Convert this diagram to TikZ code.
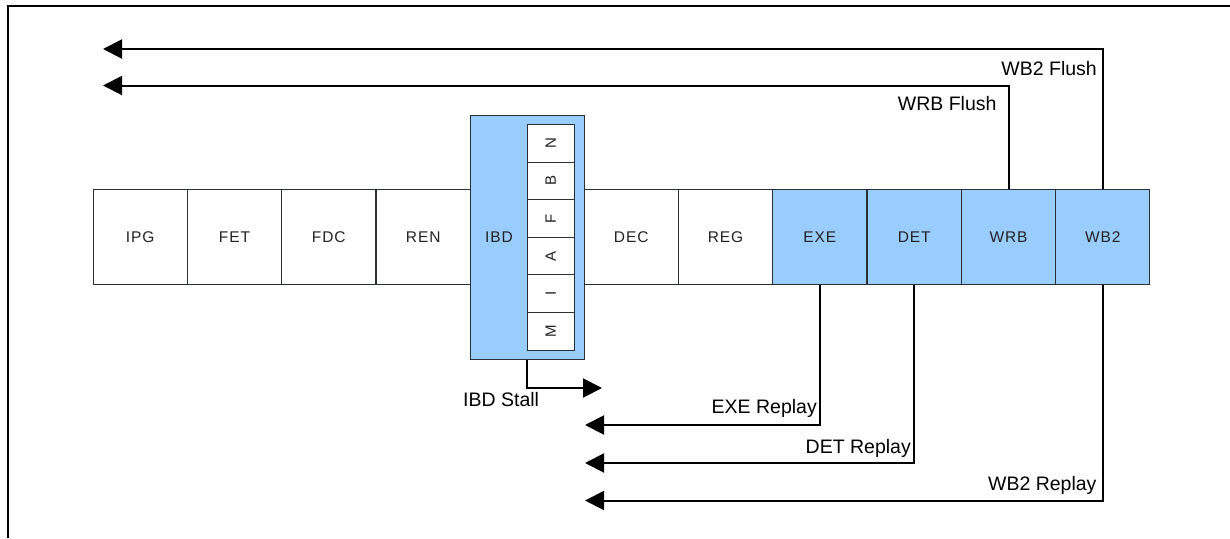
\documentclass[tikz,border=0pt]{standalone}
\usepackage{fontspec}
\usepackage{graphicx}
\setmainfont{Liberation Sans}
\usetikzlibrary{arrows.meta}
\definecolor{stageblue}{HTML}{99CCFF}
\definecolor{stagetext}{HTML}{222222}
\definecolor{stageline}{HTML}{2A2F33}
\tikzset{
  stagebox/.style={draw=stageline, line width=1pt, fill=white,
    minimum width=94.3pt, minimum height=94.7pt, inner sep=0pt,
    text=stagetext, font=\fontsize{15.5}{18}\selectfont\addfontfeature{LetterSpace=6}},
  hotbox/.style={stagebox, fill=stageblue},
  cellbox/.style={draw=stageline, line width=1pt, fill=white,
    minimum width=47pt, minimum height=37.7pt, inner sep=0pt,
    text=stagetext, font=\fontsize{15}{18}\selectfont},
  flow/.style={draw=black, line width=2pt,
    -{Triangle[length=19pt,width=19pt]}},
  lbl/.style={inner sep=0pt, anchor=base east, font=\fontsize{19.5}{22}\selectfont}
}
\begin{document}
\begin{tikzpicture}[x=1pt, y=-1pt]
\useasboundingbox (0,0) rectangle (1230,538);
% frame edges
\draw[line width=2pt] (7.7,538) -- (7.7,5.5) -- (1230,5.5);

% pipeline stages
\node[stagebox] (ipg) at (140.2,236.7) {IPG};
\node[stagebox] (fet) at (234.5,236.7) {FET};
\node[stagebox] (fdc) at (328.8,236.7) {FDC};
\node[stagebox] (ren) at (423.2,236.7) {REN};
\node[hotbox, minimum width=113.7pt, minimum height=244pt] (ibd) at (527.2,237) {};
\node[stagebox, fill=none, draw=none] (ibdtxt) at (499,236.7) {IBD};
\node[stagebox] (dec) at (631.2,236.7) {DEC};
\node[stagebox] (reg) at (725.5,236.7) {REG};
\node[hotbox] (exe) at (819.8,236.7) {EXE};
\node[hotbox] (det) at (914.2,236.7) {DET};
\node[hotbox] (wrb) at (1008.5,236.7) {WRB};
\node[hotbox] (wb2) at (1102.8,236.7) {WB2};

% instruction buffer column
\node[cellbox] (cn) at (550.8,143.2) {\rotatebox{90}{N}};
\node[cellbox] (cb) at (550.8,180.85) {\rotatebox{90}{B}};
\node[cellbox] (cf) at (550.8,218.5) {\rotatebox{90}{F}};
\node[cellbox] (ca) at (550.8,256.15) {\rotatebox{90}{A}};
\node[cellbox] (ci) at (550.8,293.8) {\rotatebox{90}{I}};
\node[cellbox] (cm) at (550.8,331.45) {\rotatebox{90}{M}};

% flush paths
\coordinate (wb2flush) at (103,49);
\coordinate (wrbflush) at (103,85.5);
\draw[flow] (wb2.north) |- (wb2flush);
\draw[flow] (wrb.north) |- (wrbflush);
\node[lbl] (wb2fl) at (1097,75) {WB2 Flush};
\node[lbl] (wrbfl) at (996.7,110.5) {WRB Flush};

% stall path
\coordinate (stall) at (602,388);
\draw[flow] (ibd.south -| cm.west) |- (stall);
\node[lbl, anchor=base west] (stl) at (463,406.5) {IBD Stall};

% replay paths
\coordinate (exerep) at (585,425);
\coordinate (detrep) at (585,463);
\coordinate (wb2rep) at (585,500.5);
\draw[flow] (exe.south) |- (exerep);
\draw[flow] (det.south) |- (detrep);
\draw[flow] (wb2.south) |- (wb2rep);
\node[lbl] (exel) at (817,413) {EXE Replay};
\node[lbl] (detl) at (911,453) {DET Replay};
\node[lbl] (wb2l) at (1096.7,490) {WB2 Replay};
\end{tikzpicture}
\end{document}
